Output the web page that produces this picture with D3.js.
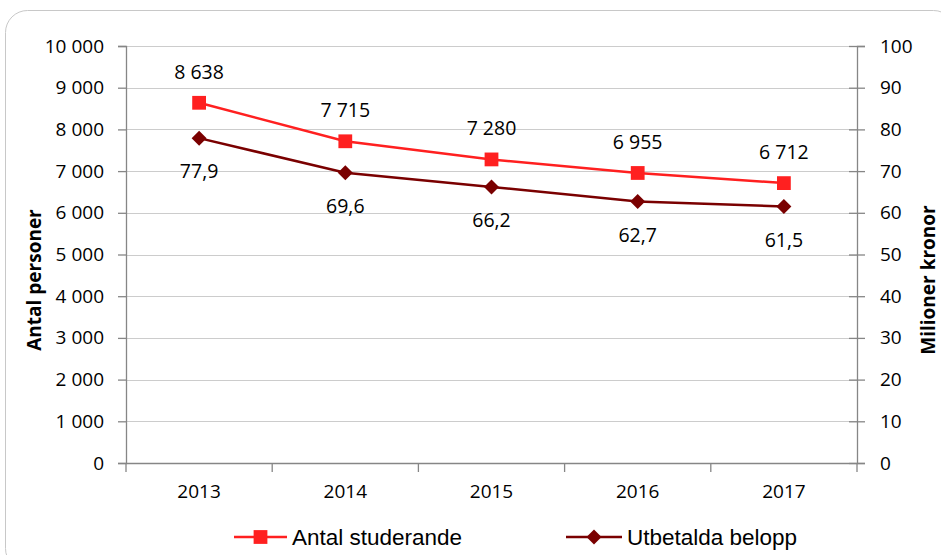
<!DOCTYPE html>
<html><head><meta charset="utf-8">
<script src="https://cdn.jsdelivr.net/npm/d3@7"></script>
<style>
html,body{margin:0;padding:0;background:#fff;}
svg{display:block;}
</style>
</head><body>
<svg id="chart" width="941" height="555"></svg>
<script>
const years = ["2013","2014","2015","2016","2017"];
const students = [8638, 7715, 7280, 6955, 6712];
const payments = [77.9, 69.6, 66.2, 62.7, 61.5];
const leftTicks = [0,1000,2000,3000,4000,5000,6000,7000,8000,9000,10000];
const rightTicks = [0,10,20,30,40,50,60,70,80,90,100];
const seriesNames = ["Antal studerande", "Utbetalda belopp"];
const leftTitle = "Antal personer";
const rightTitle = "Milioner kronor";

const svg = d3.select("#chart");
const m = {left:126, right:857, top:46, bottom:463};
const red = "#FF2020", dark = "#7A0000";
const tickFont = "'Open Sans', Carlito, Calibri, sans-serif";
const legendFont = "'Liberation Sans', Arial, sans-serif";

const loc = d3.formatLocale({decimal:",", thousands:"\u00a0", grouping:[3], currency:["",""]});
const fInt = loc.format(",d");
const fDec = loc.format(".1f");

// frame
svg.append("rect").attr("x",5.5).attr("y",10.5).attr("width",950).attr("height",560)
  .attr("rx",22).attr("fill","#fff").attr("stroke","#c8c8c8").attr("stroke-width",1);

const x = d3.scaleBand().domain(years).range([m.left, m.right]);
const yL = d3.scaleLinear().domain([0,10000]).range([m.bottom, m.top]);
const yR = d3.scaleLinear().domain([0,100]).range([m.bottom, m.top]);

// gridlines
svg.append("g").selectAll("line").data(leftTicks.filter(d=>d>0)).join("line")
  .attr("x1",m.left).attr("x2",m.right)
  .attr("y1",d=>Math.round(yL(d))+0.5).attr("y2",d=>Math.round(yL(d))+0.5)
  .attr("stroke","#cccccc").attr("stroke-width",1.2);

// left axis
const gL = svg.append("g").attr("transform",`translate(${m.left},0)`)
  .call(d3.axisLeft(yL).tickValues(leftTicks).tickFormat(fInt).tickSizeOuter(0).tickSize(8).tickPadding(14));
// right axis
const gR = svg.append("g").attr("transform",`translate(${m.right},0)`)
  .call(d3.axisRight(yR).tickValues(rightTicks).tickFormat(d=>d).tickSizeOuter(0).tickSize(8).tickPadding(15));
gR.selectAll(".tick line").attr("x1",-8);
// bottom axis
const gB = svg.append("g").attr("transform",`translate(0,${m.bottom})`)
  .call(d3.axisBottom(x).tickSize(0).tickPadding(22).tickSizeOuter(0));
// boundary ticks on x axis
const bounds = years.map(d=>x(d)).concat([m.right]);
svg.append("g").selectAll("line").data(bounds).join("line")
  .attr("x1",d=>d).attr("x2",d=>d).attr("y1",m.bottom).attr("y2",m.bottom+9)
  .attr("stroke","#868686").attr("stroke-width",1.3);

[gL,gR,gB].forEach(g=>{
  g.selectAll(".domain").attr("stroke","#868686").attr("stroke-width",1.3);
  g.selectAll(".tick line").attr("stroke","#868686").attr("stroke-width",1.3);
});
gL.selectAll("text").attr("font-family",tickFont).attr("font-size",19).attr("fill","#000");
gR.selectAll("text").attr("font-family",tickFont).attr("font-size",19).attr("fill","#000");
gB.selectAll("text").attr("font-family",tickFont).attr("font-size",19).attr("fill","#000");

// axis titles
const titleY = 280;
svg.append("text").attr("transform",`translate(41,${titleY}) rotate(-90)`)
  .attr("text-anchor","middle").attr("font-family",tickFont).attr("font-weight","bold")
  .attr("font-size",19).text(leftTitle);
svg.append("text").attr("transform",`translate(935,${titleY}) rotate(-90)`)
  .attr("text-anchor","middle").attr("font-family",tickFont).attr("font-weight","bold")
  .attr("font-size",19).text(rightTitle);

const cx = d=>x(d)+x.bandwidth()/2;

// lines
svg.append("path").datum(students.map((v,i)=>[cx(years[i]),yL(v)]))
  .attr("d",d3.line()).attr("fill","none").attr("stroke",red).attr("stroke-width",2.5);
svg.append("path").datum(payments.map((v,i)=>[cx(years[i]),yR(v)]))
  .attr("d",d3.line()).attr("fill","none").attr("stroke",dark).attr("stroke-width",2.5);

// markers
const sq = d3.symbol().type(d3.symbolSquare).size(190)();
const dia = "M0,-7.5L7.5,0L0,7.5L-7.5,0Z";
svg.append("g").selectAll("path").data(students).join("path")
  .attr("transform",(d,i)=>`translate(${cx(years[i])},${yL(d)})`).attr("d",sq).attr("fill",red);
svg.append("g").selectAll("path").data(payments).join("path")
  .attr("transform",(d,i)=>`translate(${cx(years[i])},${yR(d)})`).attr("d",dia).attr("fill",dark);

// data labels
svg.append("g").selectAll("text").data(students).join("text")
  .attr("x",(d,i)=>cx(years[i])).attr("y",d=>yL(d)-24)
  .attr("text-anchor","middle").attr("font-family",tickFont).attr("font-size",19.5).text(d=>fInt(d));
svg.append("g").selectAll("text").data(payments).join("text")
  .attr("x",(d,i)=>cx(years[i])).attr("y",d=>yR(d)+40)
  .attr("text-anchor","middle").attr("font-family",tickFont).attr("font-size",19.5).text(d=>fDec(d));

// legend
const legend = [{name:seriesNames[0], color:red, sym:sq, x0:234, x1:287},
                {name:seriesNames[1], color:dark, sym:dia, x0:566, x1:622}];
const ly = 537;
const lg = svg.append("g").selectAll("g").data(legend).join("g");
lg.append("line").attr("x1",d=>d.x0).attr("x2",d=>d.x1).attr("y1",ly).attr("y2",ly)
  .attr("stroke",d=>d.color).attr("stroke-width",2.5);
lg.append("path").attr("transform",d=>`translate(${(d.x0+d.x1)/2},${ly})`)
  .attr("d",d=>d.sym).attr("fill",d=>d.color);
lg.append("text").attr("x",d=>d.x1+5).attr("y",ly+7.5)
  .attr("font-family",legendFont).attr("font-size",22.5).text(d=>d.name);
</script>
</body></html>
